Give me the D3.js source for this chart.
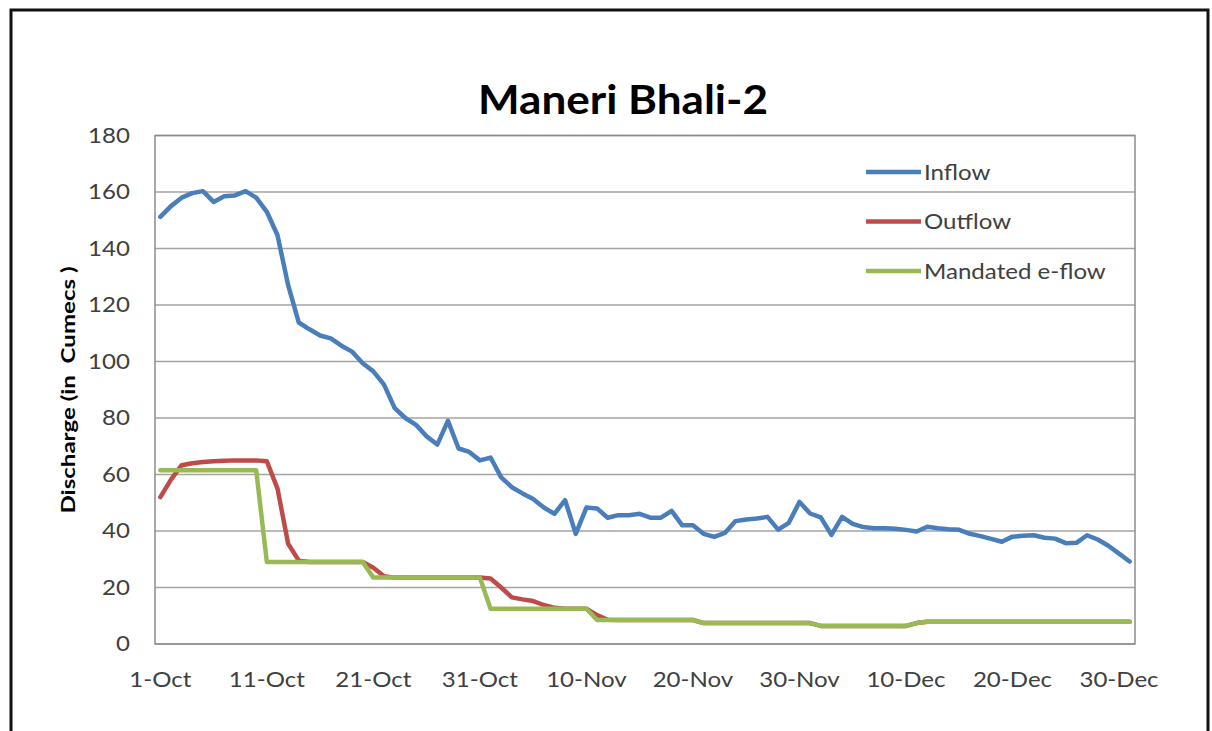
<!DOCTYPE html>
<html lang="en">
<head>
    <meta charset="UTF-8">
    <title>Maneri Bhali-2</title>
    <script src="https://d3js.org/d3.v7.min.js"></script>
    <style>
        body {
            margin: 0;
            background: #ffffff;
        }
        text {
            font-family: Lato, "Open Sans", sans-serif;
        }
        .tick-label {
            font-size: 21.5px;
            fill: #404040;
        }
        .axis-title {
            font-size: 19px;
            font-weight: bold;
            fill: #000;
            white-space: pre;
        }
        .legend-label {
            font-size: 21.5px;
            fill: #404040;
        }
    </style>
</head>
<body>
    <svg width="1212" height="731"></svg>

    <script>
        // Oct 1 - Dec 31, one value per day
        const dates = d3.timeDay.range(new Date(2013, 9, 1), new Date(2014, 0, 1));

        const inflow = [
            151.2, 155.0, 158.0, 159.6, 160.3, 156.5, 158.5, 158.8, 160.3, 158.0,
            153.0, 144.7, 127.0, 113.8, 111.4, 109.2, 108.2, 105.6, 103.5, 99.4,
            96.5, 91.8, 83.5, 80.0, 77.6, 73.5, 70.6, 79.0, 69.2, 68.0,
            65.0, 66.0, 59.0, 55.5, 53.3, 51.3, 48.3, 46.1, 50.9, 39.0,
            48.3, 48.0, 44.7, 45.6, 45.6, 46.1, 44.7, 44.7, 47.1, 42.0,
            42.0, 39.0, 37.9, 39.3, 43.5, 44.1, 44.4, 45.0, 40.5, 42.9,
            50.3, 46.2, 44.8, 38.6, 45.0, 42.5, 41.4, 41.0, 41.0, 40.8,
            40.4, 39.8, 41.5, 41.0, 40.6, 40.4, 39.0, 38.2, 37.2, 36.2,
            38.0, 38.3, 38.5, 37.6, 37.3, 35.7, 35.8, 38.5, 37.0, 34.8,
            32.0, 29.2
        ];

        const outflow = [
            52.0, 58.2, 63.3, 64.0, 64.4, 64.7, 64.9, 65.0, 65.0, 65.0,
            64.7, 55.0, 35.5, 29.5, 29.0, 29.0, 29.0, 29.0, 29.0, 29.0,
            27.0, 24.0, 23.5, 23.5, 23.5, 23.5, 23.5, 23.5, 23.5, 23.5,
            23.5, 23.2, 20.0, 16.5, 15.8, 15.2, 13.8, 12.8, 12.5, 12.5,
            12.5, 10.2, 8.6, 8.5, 8.5, 8.5, 8.5, 8.5, 8.5, 8.5,
            8.5, 7.4, 7.4, 7.4, 7.4, 7.4, 7.4, 7.4, 7.4, 7.4,
            7.4, 7.4, 6.4, 6.4, 6.4, 6.4, 6.4, 6.4, 6.4, 6.4,
            6.4, 7.4, 7.9, 7.9, 7.9, 7.9, 7.9, 7.9, 7.9, 7.9,
            7.9, 7.9, 7.9, 7.9, 7.9, 7.9, 7.9, 7.9, 7.9, 7.9,
            7.9, 7.9
        ];

        const eflow = [
            61.5, 61.5, 61.5, 61.5, 61.5, 61.5, 61.5, 61.5, 61.5, 61.5,
            29.0, 29.0, 29.0, 29.0, 29.0, 29.0, 29.0, 29.0, 29.0, 29.0,
            23.5, 23.5, 23.5, 23.5, 23.5, 23.5, 23.5, 23.5, 23.5, 23.5,
            23.5, 12.5, 12.5, 12.5, 12.5, 12.5, 12.5, 12.5, 12.5, 12.5,
            12.5, 8.5, 8.5, 8.5, 8.5, 8.5, 8.5, 8.5, 8.5, 8.5,
            8.5, 7.4, 7.4, 7.4, 7.4, 7.4, 7.4, 7.4, 7.4, 7.4,
            7.4, 7.4, 6.4, 6.4, 6.4, 6.4, 6.4, 6.4, 6.4, 6.4,
            6.4, 7.4, 7.9, 7.9, 7.9, 7.9, 7.9, 7.9, 7.9, 7.9,
            7.9, 7.9, 7.9, 7.9, 7.9, 7.9, 7.9, 7.9, 7.9, 7.9,
            7.9, 7.9
        ];

        const yTicks = [0, 20, 40, 60, 80, 100, 120, 140, 160, 180];

        const series = [
            {name: "Inflow", values: inflow, color: "#4a7ebb"},
            {name: "Outflow", values: outflow, color: "#be4b48"},
            {name: "Mandated e-flow", values: eflow, color: "#98b954"}
        ];

        const plot = {left: 155, right: 1135, top: 135.5, bottom: 644};
        const stretch = 1.12;  // the source picture is a bit wider than tall

        const svg = d3.select("svg");

        // outer frame
        svg.append("rect")
            .attr("x", 11)
            .attr("y", 10)
            .attr("width", 1197)
            .attr("height", 760)
            .attr("fill", "none")
            .attr("stroke", "#111")
            .attr("stroke-width", 3);

        const x = d3.scaleBand()
            .domain(dates)
            .range([plot.left, plot.right]);

        const y = d3.scaleLinear()
            .domain([0, 180])
            .range([plot.bottom, plot.top]);

        // gridlines
        svg.append("g")
            .selectAll("line")
            .data(yTicks)
            .join("line")
            .attr("x1", plot.left)
            .attr("x2", plot.right)
            .attr("y1", d => y(d))
            .attr("y2", d => y(d))
            .attr("stroke", "#a3a3a3")
            .attr("stroke-width", 1.5);

        svg.append("rect")
            .attr("x", plot.left)
            .attr("y", plot.top)
            .attr("width", plot.right - plot.left)
            .attr("height", plot.bottom - plot.top)
            .attr("fill", "none")
            .attr("stroke", "#8c8c8c")
            .attr("stroke-width", 1.5);

        // y axis
        const yAxis = svg.append("g")
            .attr("transform", `translate(${plot.left},0)`)
            .call(d3.axisLeft(y).tickValues(yTicks).tickSize(0).tickPadding(0));
        yAxis.select(".domain").remove();
        yAxis.selectAll("text")
            .attr("class", "tick-label")
            .attr("font-size", null)
            .attr("font-family", null)
            .attr("x", 0)
            .attr("transform", `translate(-25,0) scale(${stretch},1)`);

        // x axis, label every 10th day
        const xAxis = svg.append("g")
            .attr("transform", `translate(0,${plot.bottom})`)
            .call(d3.axisBottom(x)
                .tickValues(dates.filter((d, i) => i % 10 === 0))
                .tickFormat(d3.timeFormat("%-d-%b"))
                .tickSize(0)
                .tickPadding(28));
        xAxis.select(".domain").remove();
        xAxis.selectAll("text")
            .attr("class", "tick-label")
            .attr("font-size", null)
            .attr("font-family", null)
            .attr("transform", `scale(${stretch},1)`);

        svg.append("text")
            .attr("class", "axis-title")
            .attr("transform", "translate(75,390) rotate(-90)")
            .attr("text-anchor", "middle")
            .attr("textLength", 247)
            .attr("lengthAdjust", "spacingAndGlyphs")
            .text("Discharge (in  Cumecs )");

        svg.append("text")
            .attr("x", 623)
            .attr("y", 114)
            .attr("text-anchor", "middle")
            .attr("font-size", 41)
            .attr("font-weight", "bold")
            .attr("fill", "#000")
            .attr("textLength", 290)
            .attr("lengthAdjust", "spacingAndGlyphs")
            .text("Maneri Bhali-2");

        const line = d3.line()
            .x((d, i) => x(dates[i]) + x.bandwidth() / 2)
            .y(d => y(d));

        svg.append("g")
            .selectAll("path")
            .data(series)
            .join("path")
            .attr("d", d => line(d.values))
            .attr("fill", "none")
            .attr("stroke", d => d.color)
            .attr("stroke-width", 4.5)
            .attr("stroke-linejoin", "round")
            .attr("stroke-linecap", "round");

        // legend
        const legend = svg.append("g")
            .selectAll("g")
            .data(series)
            .join("g")
            .attr("transform", (d, i) => `translate(866,${172 + i * 49.5})`);

        legend.append("line")
            .attr("x1", 0)
            .attr("x2", 55)
            .attr("stroke", d => d.color)
            .attr("stroke-width", 4.5);

        legend.append("text")
            .attr("class", "legend-label")
            .attr("transform", `translate(58,0) scale(${stretch},1)`)
            .attr("dy", "0.35em")
            .text(d => d.name);
    </script>
</body>
</html>
